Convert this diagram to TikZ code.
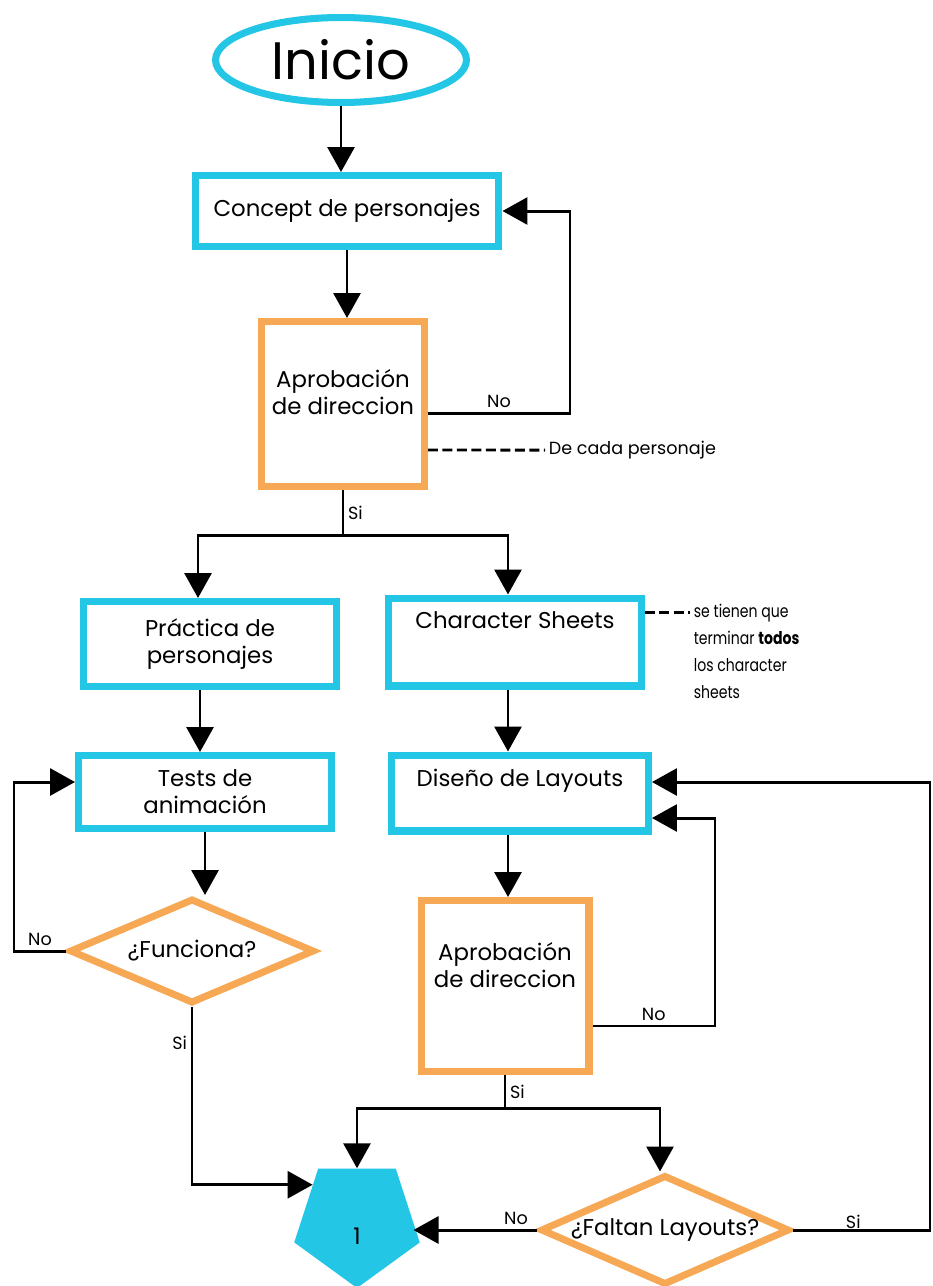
\documentclass[tikz,border=0pt]{standalone}
\usepackage{fontspec}
\setmainfont{Poppins}
\usetikzlibrary{arrows.meta,shapes.geometric,positioning}
\definecolor{flowcyan}{RGB}{36,198,230}
\definecolor{floworange}{RGB}{247,168,84}

\begin{document}
\begin{tikzpicture}[x=0.02cm, y=-0.02cm,
    every node/.style={font=\fontsize{13}{15.4}\selectfont},
    bluebox/.style={rectangle, draw=flowcyan, line width=4pt, align=center},
    orangebox/.style={rectangle, draw=floworange, line width=4pt},
    choice/.style={diamond, draw=floworange, line width=4pt, inner sep=0pt},
    flow/.style={line width=1.7pt},
    arr/.style={flow, -{Triangle[length=0.5cm, width=0.54cm]}},
    note/.style={line width=1.7pt, dash pattern=on 0.2cm off 0.09cm},
    small/.style={font=\fontsize{10}{12}\selectfont, inner sep=2pt}]

    \useasboundingbox (0,0) rectangle (933,1286);

    \node[ellipse, draw=flowcyan, line width=4pt, minimum width=5.02cm, minimum height=1.7cm, font=\fontsize{30}{36}\selectfont] (inicio) at (341,60) {Inicio};
    \node[bluebox, minimum width=6.08cm, minimum height=1.42cm] (concept) at (347,211) {Concept de personajes};
    \node[orangebox, minimum width=3.26cm, minimum height=3.3cm] (aprob1) at (343,404) {};
    \node[yshift=0.24cm, align=center] (aprob1_t) at (aprob1) {Aprobación\\de direccion};

    \node[bluebox, minimum width=5.06cm, minimum height=1.7cm] (practica) at (210,644) {Práctica de\\personajes};
    \node[bluebox, minimum width=5.06cm, minimum height=1.76cm] (charsheets) at (515,642) {};
    \node[yshift=0.44cm] (charsheets_t) at (charsheets) {Character Sheets};
    \node[bluebox, minimum width=5.06cm, minimum height=1.46cm] (tests) at (205,792) {Tests de\\animación};
    \node[bluebox, minimum width=5.14cm, minimum height=1.52cm] (diseno) at (520,793) {};
    \node[yshift=0.24cm] (diseno_t) at (diseno) {Diseño de Layouts};

    \node[choice, minimum width=4.9cm, minimum height=2.1cm] (funciona) at (192,951) {};
    \node (funciona_t) at (funciona) {¿Funciona?};
    \node[orangebox, minimum width=3.36cm, minimum height=3.42cm] (aprob2) at (505,986) {};
    \node[yshift=0.42cm, align=center] (aprob2_t) at (aprob2) {Aprobación\\de direccion};

    \node[regular polygon, regular polygon sides=5, shape border rotate=180, fill=flowcyan, minimum size=2.64cm, inner sep=0pt] (penta) at (357,1222) {};
    \node[yshift=-0.28cm] (penta_t) at (penta) {1};
    \node[choice, minimum width=4.98cm, minimum height=2.2cm] (faltan) at (665,1230) {};
    \node (faltan_t) at (faltan) {¿Faltan Layouts?};

    \node[small, anchor=west] (nota1) at (545,450) {De cada personaje};
    \node[small, anchor=north west, align=left, font=\fontsize{10}{15.4}\selectfont\addfontfeature{FakeStretch=0.8}] (nota2) at (690,600) {se tienen que\\terminar \textbf{todos}\\los character\\sheets};

    \coordinate (back1) at (570,300);
    \coordinate (split1) at (343,535);
    \coordinate (back2) at (14,870);
    \coordinate (back3) at (715,920);
    \coordinate (split2) at (505,1108);
    \coordinate (back4) at (930,1000);

    \draw[arr] (inicio.south) -- (inicio.south |- concept.north);
    \draw[arr] (concept.south) -- (concept.south |- aprob1.north);
    \draw[arr] ([yshift=-0.18cm]aprob1.east) -| node[small, pos=0.25, above] {No} (back1) |- (concept.east);
    \draw[note] ([yshift=-0.92cm]aprob1.east) -- (nota1.west);
    \draw[flow] (aprob1.south) -- node[small, right] {Si} (split1);
    \draw[arr] (split1) -| ([xshift=-0.24cm]practica.north);
    \draw[arr] (split1) -| ([xshift=-0.14cm]charsheets.north);

    \draw[note] ([yshift=0.6cm]charsheets.east) -- ([yshift=0.6cm]charsheets.east -| nota2.west);
    \draw[arr] ([xshift=-0.2cm]practica.south) -- ([xshift=-0.2cm]practica.south |- tests.north);
    \draw[arr] ([xshift=-0.14cm]charsheets.south) -- ([xshift=-0.14cm]charsheets.south |- diseno.north);
    \draw[arr] ([xshift=-0.24cm]diseno.south) -- ([xshift=-0.24cm]diseno.south |- aprob2.north);

    \draw[arr] (tests.south) -- (tests.south |- funciona.north);
    \draw[arr] (funciona.west) -| node[small, pos=0.25, above] {No} (back2) |- ([yshift=0.2cm]tests.west);
    \draw[arr] (funciona.south) |- node[small, pos=0.1, left] {Si} (penta.140);

    \draw[arr] ([yshift=-0.8cm]aprob2.east) -| node[small, pos=0.25, above] {No} (back3) |- ([yshift=-0.5cm]diseno.east);
    \draw[flow] (aprob2.south) -- node[small, right] {Si} (split2);
    \draw[arr] (split2) -| (penta.north);
    \draw[arr] (split2) -| ([xshift=-0.1cm]faltan.north);

    \draw[arr] (faltan.west) -- node[small, pos=0.17, above] {No} (faltan.west -| penta.east);
    \draw[arr] (faltan.east) -| node[small, pos=0.22, above, inner sep=0pt] {Si} (back4) |- ([yshift=0.22cm]diseno.east);
\end{tikzpicture}
\end{document}
